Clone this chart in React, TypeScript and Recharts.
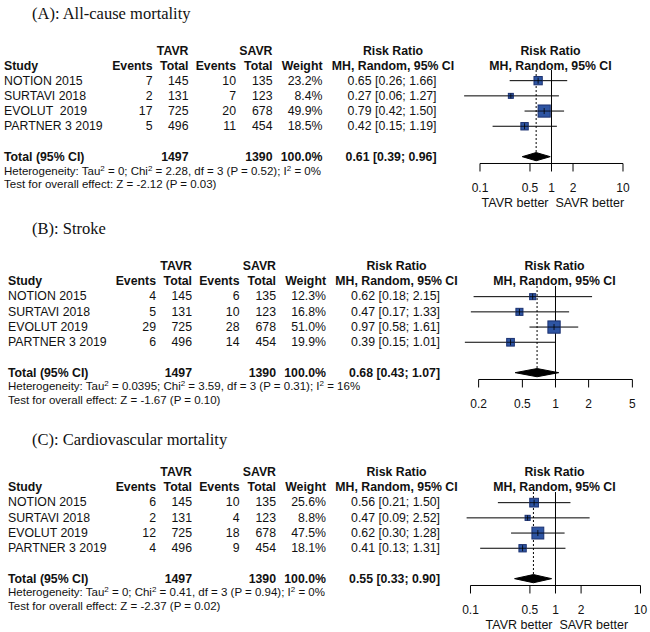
import React from "react";
import { ScatterChart, Scatter, XAxis, YAxis, ErrorBar, ReferenceLine } from "recharts";

const SANS = "Arial, 'Liberation Sans', Helvetica, sans-serif";
const SERIF = "'Times New Roman', 'Liberation Serif', serif";
const INK = "#111";

// shared study info
const studyNamesA = ["NOTION 2015", "SURTAVI 2018", "EVOLUT  2019", "PARTNER 3 2019"];
const studyNames = ["NOTION 2015", "SURTAVI 2018", "EVOLUT 2019", "PARTNER 3 2019"];
const tavrTotal = [145, 131, 725, 496];
const savrTotal = [135, 123, 678, 454];
const totals = [1497, 1390];

// (A) all-cause mortality
const tavrEventsA = [7, 2, 17, 5];
const savrEventsA = [10, 7, 20, 11];
const weightA = [23.2, 8.4, 49.9, 18.5];
const rrA = [0.65, 0.27, 0.79, 0.42];
const lowA = [0.26, 0.06, 0.42, 0.15];
const highA = [1.66, 1.27, 1.5, 1.19];
const pooledA = [0.61, 0.39, 0.96];
const hetA = ["Heterogeneity: Tau", "2", " = 0; Chi", "2", " = 2.28, df = 3 (P = 0.52); I", "2", " = 0%"];
const testA = "Test for overall effect: Z = -2.12 (P = 0.03)";
const ticksA = [0.1, 0.5, 1, 2, 10];

// (B) stroke
const tavrEventsB = [4, 5, 29, 6];
const savrEventsB = [6, 10, 28, 14];
const weightB = [12.3, 16.8, 51.0, 19.9];
const rrB = [0.62, 0.47, 0.97, 0.39];
const lowB = [0.18, 0.17, 0.58, 0.15];
const highB = [2.15, 1.33, 1.61, 1.01];
const pooledB = [0.68, 0.43, 1.07];
const hetB = ["Heterogeneity: Tau", "2", " = 0.0395; Chi", "2", " = 3.59, df = 3 (P = 0.31); I", "2", " = 16%"];
const testB = "Test for overall effect: Z = -1.67 (P = 0.10)";
const ticksB = [0.2, 0.5, 1, 2, 5];

// (C) cardiovascular mortality
const tavrEventsC = [6, 2, 12, 4];
const savrEventsC = [10, 4, 18, 9];
const weightC = [25.6, 8.8, 47.5, 18.1];
const rrC = [0.56, 0.47, 0.62, 0.41];
const lowC = [0.21, 0.09, 0.3, 0.13];
const highC = [1.5, 2.52, 1.28, 1.31];
const pooledC = [0.55, 0.33, 0.9];
const hetC = ["Heterogeneity: Tau", "2", " = 0; Chi", "2", " = 0.41, df = 3 (P = 0.94); I", "2", " = 0%"];
const testC = "Test for overall effect: Z = -2.37 (P = 0.02)";
const ticksC = [0.1, 0.5, 1, 2, 10];

const ROW_PX = 15.2;
const Y_TOP = 0.3;
const TOTAL_ROW = 6;
const Y_AXIS = 6.45;
const DIAMOND_HALF = 0.27;

const panels = [
  {
    title: "(A): All-cause mortality", titleY: 13, base: 50.5, dx: -3.5, studyX: 4,
    names: studyNamesA, tavrEvents: tavrEventsA, savrEvents: savrEventsA, weight: weightA,
    rr: rrA, low: lowA, high: highA, pooled: pooledA, het: hetA, test: testA, ticks: ticksA,
    domain: [0.05, 20], perDecade: 71.5, oneX: 551.5, better: true,
  },
  {
    title: "(B): Stroke", titleY: 228, base: 266, dx: 0, studyX: 8,
    names: studyNames, tavrEvents: tavrEventsB, savrEvents: savrEventsB, weight: weightB,
    rr: rrB, low: lowB, high: highB, pooled: pooledB, het: hetB, test: testB, ticks: ticksB,
    domain: [0.125, 6], perDecade: 110, oneX: 555.5, better: false,
  },
  {
    title: "(C): Cardiovascular mortality", titleY: 439, base: 472, dx: 0, studyX: 8,
    names: studyNames, tavrEvents: tavrEventsC, savrEvents: savrEventsC, weight: weightC,
    rr: rrC, low: lowC, high: highC, pooled: pooledC, het: hetC, test: testC, ticks: ticksC,
    domain: [0.08, 12], perDecade: 85, oneX: 555.5, better: true,
  },
];

const fmtCI = (v: number, lo: number, hi: number) =>
  `${v.toFixed(2)} [${lo.toFixed(2)}; ${hi.toFixed(2)}]`;

// pixel row of the x axis line, snapped to a half pixel so it stays crisp
const axisLineY = (base: number) => Math.round(base + 30 + ROW_PX * (Y_AXIS - 1)) + 0.5;

function T({ x, y, children, anchor = "start", bold = false, size = 12.3, family = SANS }: any) {
  return (
    <text
      x={x}
      y={y + size * 0.35}
      textAnchor={anchor}
      fontWeight={bold ? "bold" : "normal"}
      fontSize={size}
      fontFamily={family}
      fill={INK}
      style={{ whiteSpace: "pre" }}
    >
      {children}
    </text>
  );
}

function Box(props: any) {
  const { cx, cy } = props;
  if (cx == null || cy == null) return null;
  const w = props.payload?.w ?? props.w;
  const s = 1.72 * Math.sqrt(w);
  const t = Math.min(3, s / 2);
  return (
    <g>
      <rect x={cx - s / 2} y={cy - s / 2} width={s} height={s} fill="#2E55A3" stroke="#1B3170" strokeWidth={1} />
      <line x1={cx - s / 2} x2={cx + s / 2} y1={cy} y2={cy} stroke="#000" strokeWidth={0.8} />
      <line x1={cx} x2={cx} y1={cy - t} y2={cy + t} stroke="#000" strokeWidth={0.8} />
    </g>
  );
}

function PanelText({ p }: any) {
  const c = {
    tavrEv: 156 + p.dx, tavrTot: 192 + p.dx, savrEv: 239.5 + p.dx, savrTot: 276 + p.dx,
    weight: 326 + p.dx, rr: 440 + p.dx, rrHead: 396.5 + p.dx,
  };
  const b = p.base;
  const rowY = (i: number) => b + 30 + ROW_PX * i;
  const [est, lo, hi] = p.pooled;
  const axisY = axisLineY(b);
  let shifted = false;
  return (
    <g>
      <T x={32} y={p.titleY} size={16.5} family={SERIF}>{p.title}</T>
      <T x={c.tavrTot} y={b} anchor="end" bold>TAVR</T>
      <T x={c.savrTot} y={b} anchor="end" bold>SAVR</T>
      <T x={c.rrHead} y={b} anchor="middle" bold>Risk Ratio</T>
      <T x={p.oneX - 1} y={b} anchor="middle" bold>Risk Ratio</T>
      <T x={p.studyX} y={b + 15} bold>Study</T>
      <T x={c.tavrEv} y={b + 15} anchor="end" bold>Events</T>
      <T x={c.tavrTot} y={b + 15} anchor="end" bold>Total</T>
      <T x={c.savrEv} y={b + 15} anchor="end" bold>Events</T>
      <T x={c.savrTot} y={b + 15} anchor="end" bold>Total</T>
      <T x={c.weight} y={b + 15} anchor="end" bold>Weight</T>
      <T x={c.rrHead} y={b + 15} anchor="middle" bold>MH, Random, 95% CI</T>
      <T x={p.oneX - 1} y={b + 15} anchor="middle" bold>MH, Random, 95% CI</T>
      {p.names.map((n: string, i: number) => (
        <g key={n}>
          <T x={p.studyX} y={rowY(i)}>{n}</T>
          <T x={c.tavrEv} y={rowY(i)} anchor="end">{p.tavrEvents[i]}</T>
          <T x={c.tavrTot} y={rowY(i)} anchor="end">{tavrTotal[i]}</T>
          <T x={c.savrEv} y={rowY(i)} anchor="end">{p.savrEvents[i]}</T>
          <T x={c.savrTot} y={rowY(i)} anchor="end">{savrTotal[i]}</T>
          <T x={c.weight} y={rowY(i)} anchor="end">{p.weight[i].toFixed(1)}%</T>
          <T x={c.rr} y={rowY(i)} anchor="end">{fmtCI(p.rr[i], p.low[i], p.high[i])}</T>
        </g>
      ))}
      <T x={p.studyX} y={b + 106.5} bold>Total (95% CI)</T>
      <T x={c.tavrTot} y={b + 106.5} anchor="end" bold>{totals[0]}</T>
      <T x={c.savrTot} y={b + 106.5} anchor="end" bold>{totals[1]}</T>
      <T x={c.weight} y={b + 106.5} anchor="end" bold>100.0%</T>
      <T x={c.rr} y={b + 106.5} anchor="end" bold>{fmtCI(est, lo, hi)}</T>
      <text x={p.studyX} y={b + 120 + 4} fontSize={11.5} fontFamily={SANS} fill={INK} style={{ whiteSpace: "pre" }}>
        {p.het.map((s: string, i: number) => {
          if (i % 2 === 1) {
            shifted = true;
            return <tspan key={i} fontSize={8} dy={-4}>{s}</tspan>;
          }
          const dy = shifted ? 4 : 0;
          shifted = false;
          return <tspan key={i} dy={dy}>{s}</tspan>;
        })}
      </text>
      <T x={p.studyX} y={b + 133.5} size={11.5}>{p.test}</T>
      {p.better && (
        <>
          <T x={p.oneX - 3} y={axisY + 39.5} anchor="end" size={12.5}>TAVR better</T>
          <T x={p.oneX + 4} y={axisY + 39.5} size={12.5}>SAVR better</T>
        </>
      )}
    </g>
  );
}

function Forest({ p }: any) {
  const u = p.perDecade;
  const plotLeft = p.oneX + Math.log10(p.domain[0]) * u;
  const plotW = (Math.log10(p.domain[1]) - Math.log10(p.domain[0])) * u;
  const plotH = (Y_AXIS - Y_TOP) * ROW_PX;
  const plotTop = axisLineY(p.base) - plotH;
  const divLeft = Math.floor(plotLeft) - 1;
  const divTop = Math.floor(plotTop) - 1;
  const mLeft = plotLeft - divLeft;
  const mTop = plotTop - divTop;
  const axisH = 40;
  const studyData = p.rr.map((v: number, i: number) => ({
    x: v, y: i + 1, err: [v - p.low[i], p.high[i] - v], w: p.weight[i],
  }));
  const [est, lo, hi] = p.pooled;
  const diamond = [
    { x: lo, y: TOTAL_ROW },
    { x: est, y: TOTAL_ROW - DIAMOND_HALF },
    { x: hi, y: TOTAL_ROW },
    { x: est, y: TOTAL_ROW + DIAMOND_HALF },
    { x: lo, y: TOTAL_ROW },
  ];
  const first = p.ticks[0];
  const last = p.ticks[p.ticks.length - 1];
  return (
    <div style={{ position: "absolute", left: divLeft, top: divTop }}>
      <ScatterChart
        width={mLeft + plotW + 2}
        height={mTop + plotH + axisH}
        margin={{ top: mTop, right: 2, bottom: 0, left: mLeft }}
      >
        <XAxis
          type="number"
          dataKey="x"
          scale="log"
          domain={p.domain}
          allowDataOverflow
          ticks={p.ticks}
          interval={0}
          axisLine={false}
          tickSize={8}
          tickMargin={12}
          height={axisH}
          tickLine={{ stroke: "#000" }}
          tick={{ fontSize: 12, fill: INK, fontFamily: SANS }}
          tickFormatter={(v: number) => String(v)}
        />
        <YAxis type="number" dataKey="y" domain={[Y_TOP, Y_AXIS]} reversed hide allowDataOverflow />
        <ReferenceLine segment={[{ x: first, y: Y_AXIS }, { x: last, y: Y_AXIS }]} stroke="#000" strokeWidth={1} ifOverflow="visible" />
        <ReferenceLine x={1} stroke="#000" strokeWidth={1} />
        <ReferenceLine segment={[{ x: est, y: Y_TOP }, { x: est, y: TOTAL_ROW }]} stroke="#000" strokeWidth={1} strokeDasharray="2 2" />
        <Scatter data={studyData} shape={<Box />} isAnimationActive={false}>
          <ErrorBar dataKey="err" direction="x" width={0} stroke="#000" strokeWidth={1} />
        </Scatter>
        <Scatter
          data={diamond}
          shape={() => <g />}
          line={{ fill: "#000", stroke: "#000", strokeWidth: 1 }}
          lineType="joint"
          isAnimationActive={false}
        />
      </ScatterChart>
    </div>
  );
}

export default function App() {
  return (
    <div style={{ position: "absolute", left: 0, top: 0, width: 650, height: 632, background: "#fff", overflow: "hidden" }}>
      <svg width={650} height={632} style={{ position: "absolute", left: 0, top: 0 }}>
        {panels.map((p) => (
          <PanelText key={p.title} p={p} />
        ))}
      </svg>
      {panels.map((p) => (
        <Forest key={p.title} p={p} />
      ))}
    </div>
  );
}
